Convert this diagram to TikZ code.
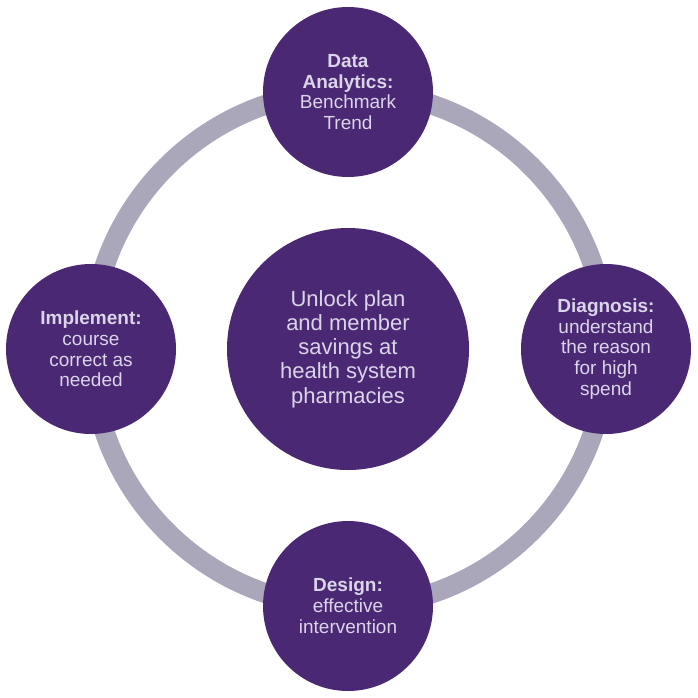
\documentclass[tikz,border=0pt]{standalone}
\usepackage{fontspec}
\setmainfont{Liberation Sans}
\begin{document}
\begin{tikzpicture}[x=1pt,y=-1pt,
  ringline/.style={draw=ringgray,line width=20pt},
  stage/.style={circle,fill=cpurple,minimum size=170pt,inner sep=0pt,align=center,text=ctext,font=\fontsize{19}{20.8}\selectfont},
  hub/.style={circle,fill=cpurple,minimum size=242pt,inner sep=0pt,align=center,text=ctext,font=\fontsize{22}{24.3}\selectfont}]
\definecolor{cpurple}{HTML}{4B2873}
\definecolor{ringgray}{HTML}{ABA7BB}
\definecolor{ctext}{HTML}{DAD5E9}
\useasboundingbox (0,0) rectangle (698,698);
\fill[white] (0,0) rectangle (698,698);
\coordinate (c) at (349,349);
\draw[ringline] (c) circle[radius=258pt];
\node[hub] (center) at (348,349) {Unlock plan\\and member\\savings at\\health system\\pharmacies};
\node[stage] (top) at (348,92) {\textbf{Data}\\\textbf{Analytics:}\\Benchmark\\Trend};
\node[stage] (right) at (606,349) {\textbf{Diagnosis:}\\understand\\the reason\\for high\\spend};
\node[stage] (bottom) at (348,606) {\textbf{Design:}\\effective\\intervention};
\node[stage] (left) at (91,349) {\textbf{Implement:}\\course\\correct as\\needed};
\end{tikzpicture}
\end{document}
